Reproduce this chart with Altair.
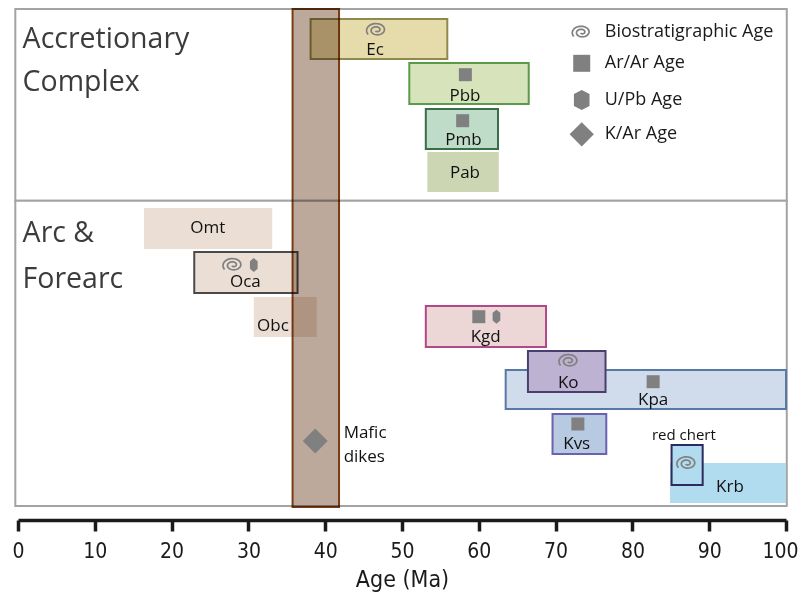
import altair as alt
import pandas as pd
import numpy as np

# ---------------- data ----------------
# ages in Ma; vertical positions in chart units (0 = top of frame, 511 = age axis)
box_names  = ["Ec", "Pbb", "Pmb", "Pab", "Omt", "Oca", "Obc", "Kgd", "Kpa", "Ko", "Kvs", "Krb", "RC"]
box_age0   = [38.1, 50.95, 53.1, 53.3, 16.4, 22.95, 30.7, 53.1, 63.5, 66.4, 69.6, 84.9, 85.1]
box_age1   = [55.9, 66.5, 62.5, 62.6, 33.1, 36.4, 38.9, 68.75, 100, 76.5, 76.6, 100, 89.15]
box_top    = [10, 54, 100, 143, 199, 243, 288, 297, 361, 342, 405, 454, 436]
box_bottom = [50, 95, 140, 183, 240, 284, 328, 338, 400, 383, 445, 494, 476]
box_fill   = ["#e6dcab", "#d7e4bb", "#bfdcc8", "#cdd6b3", "#ebdfd5", "#ebdfd5", "#ebdfd5",
              "#ecd6d6", "#d0dcec", "#bdb2d2", "#b7cae2", "#b1dbef", "#b1dbef"]
box_stroke = ["#8c8a4c", "#5a9a4a", "#3a6e48", "#cdd6b3", "#ebdfd5", "#4a4a4a", "#ebdfd5",
              "#b0488a", "#5878a8", "#4a3e6e", "#6a62b0", "#b1dbef", "#2c2a5e"]
box_sw     = [2, 2, 2, 0, 0, 2, 0, 2, 2, 2, 2, 0, 2]

label_text = ["Ec", "Pbb", "Pmb", "Pab", "Omt", "Oca", "Obc", "Kgd", "Ko", "Kpa", "Kvs", "Krb"]
label_age  = [46.5, 58.2, 58.0, 58.2, 24.7, 29.6, 33.2, 60.9, 71.65, 82.7, 72.75, 92.7]
label_y    = [41, 86.7, 131, 164.3, 219.3, 273.3, 317, 328.3, 373.7, 391, 435.3, 478.3]

# dating symbols inside boxes
sq_age = [58.25, 57.9, 60.0, 82.7, 72.9]
sq_y   = [65.7, 111.7, 307.7, 372.7, 415]
hex_age = [30.7, 62.3]
hex_y   = [256, 307.7]
bio_age = [46.7, 28.0, 71.75, 87.1]
bio_y   = [21, 256, 352, 454.3]
kar_age = [38.7]
kar_y   = [432]

# Eocene column (mafic dikes)
col_age0, col_age1, col_top, col_bottom = [35.75], [41.8], [0], [498]

# frame panels
panel_top    = [0, 191.7]
panel_bottom = [191.7, 497]

# legend
leg_text = ["Biostratigraphic Age", "Ar/Ar Age", "U/Pb Age", "K/Ar Age"]
leg_y    = [23.3, 54.3, 91, 125.3]
leg_sym_age = 73.4
leg_txt_age = 76.4

# section titles
title_text = ["Accretionary", "Complex", "Arc &", "Forearc"]
title_y    = [38.7, 81.7, 232.7, 279]

note_text = ["Mafic", "dikes", "red chert"]
note_age  = [42.4, 42.4, 86.7]
note_y    = [424.3, 447.7, 426]

ticks = list(range(0, 101, 10))

# ---------------- styling ----------------
FONT = "Open Sans"
NARROW = "Liberation Sans Narrow, DejaVu Sans Condensed, DejaVu Sans"
GREY = "#808080"


def spiral_path(n=70, squash=0.72):
    th = np.linspace(np.pi * 1.25, np.pi * 5.2, n)
    r = 0.15 + 0.85 * (th - th[0]) / (th[-1] - th[0])
    xs = r * np.cos(th)
    ys = -r * np.sin(th) * squash
    return "M" + "L".join(f"{x:.3f},{y:.3f}" for x, y in zip(xs, ys))


SPIRAL = spiral_path()
HEX_SMALL = "M0,-1L0.55,-0.55L0.55,0.55L0,1L-0.55,0.55L-0.55,-0.55Z"
HEX_BIG = "M0,-1L0.78,-0.6L0.78,0.6L0,1L-0.78,0.6L-0.78,-0.6Z"

XS = alt.Scale(domain=[0, 100], nice=False, zero=False)
YS = alt.Scale(domain=[0, 511], reverse=True, nice=False, zero=False)
TITLE = "Age (Ma)"

xaxis = alt.Axis(values=ticks, format="d", grid=False, labelFont=NARROW, labelFontSize=21,
                 labelColor="#1a1a1a", labelPadding=9, labelFlush=False,
                 labelAlign={"condition": {"test": "datum.value == 100", "value": "right"},
                             "value": "center"},
                 labelOffset={"condition": {"test": "datum.value == 100", "value": 12},
                              "value": 0},
                 titleFont=NARROW, titleFontSize=23, titleFontWeight="normal",
                 titleColor="#1a1a1a", titlePadding=7,
                 domainColor="#1a1a1a", domainWidth=3.5, tickColor="#1a1a1a",
                 tickWidth=3.5, tickSize=11)


def X(field):
    return alt.X(field, type="quantitative", scale=XS, axis=xaxis, title=TITLE)


def Y(field):
    return alt.Y(field, type="quantitative", scale=YS, axis=None)


# ---------------- tables ----------------
boxes = pd.DataFrame(dict(name=box_names, a0=box_age0, a1=box_age1, y0=box_top, y1=box_bottom,
                          fill=box_fill, stroke=box_stroke, sw=box_sw))
labels = pd.DataFrame(dict(t=label_text, a=label_age, y=label_y))
panels = pd.DataFrame(dict(a0=[-0.35, -0.35], a1=[100.1, 100.1], y0=panel_top, y1=panel_bottom))
column = pd.DataFrame(dict(a0=col_age0, a1=col_age1, y0=col_top, y1=col_bottom))
squares = pd.DataFrame(dict(a=sq_age, y=sq_y))
hexes = pd.DataFrame(dict(a=hex_age, y=hex_y))
bios = pd.DataFrame(dict(a=bio_age, y=bio_y))
kars = pd.DataFrame(dict(a=kar_age, y=kar_y))
legend = pd.DataFrame(dict(t=leg_text, y=leg_y, a=[leg_txt_age] * 4, s=[leg_sym_age] * 4))
titles = pd.DataFrame(dict(t=title_text, y=title_y, a=[0.6] * 4))
notes = pd.DataFrame(dict(t=note_text, a=note_age, y=note_y))

# ---------------- layers ----------------
frame = alt.Chart(panels).mark_rect(fill="white", stroke="#a3a3a3", strokeWidth=2).encode(
    x=X("a0:Q"), x2="a1:Q", y=Y("y0:Q"), y2="y1:Q")

box_layer = alt.Chart(boxes).transform_window(idx="row_number()").mark_rect().encode(
    x=X("a0:Q"), x2="a1:Q", y=Y("y0:Q"), y2="y1:Q",
    fill=alt.Fill("fill:N", scale=None),
    stroke=alt.Stroke("stroke:N", scale=None),
    strokeWidth=alt.StrokeWidth("sw:Q", scale=None),
    order=alt.Order("idx:Q"),
)

col_layer = alt.Chart(column).mark_rect(fill="#bda99b", stroke="#7a3c14", strokeWidth=2,
                                        blend="multiply").encode(
    x=X("a0:Q"), x2="a1:Q", y=Y("y0:Q"), y2="y1:Q")

sq_layer = alt.Chart(squares).mark_point(shape="square", filled=True, size=169, color=GREY,
                                         opacity=1).encode(x=X("a:Q"), y=Y("y:Q"))
hex_layer = alt.Chart(hexes).mark_point(shape=HEX_SMALL, filled=True, size=196, color=GREY,
                                        opacity=1).encode(x=X("a:Q"), y=Y("y:Q"))
bio_layer = alt.Chart(bios).mark_point(shape=SPIRAL, filled=False, size=440, color=GREY,
                                       strokeWidth=1.7, opacity=1).encode(x=X("a:Q"), y=Y("y:Q"))
kar_layer = alt.Chart(kars).mark_point(shape="diamond", filled=True, size=620, color=GREY,
                                       opacity=1).encode(x=X("a:Q"), y=Y("y:Q"))

leg_syms = []
leg_shapes = [(SPIRAL, False, 390), ("square", True, 289), (HEX_BIG, True, 400), ("diamond", True, 590)]
for i, (shp, filled, size) in enumerate(leg_shapes):
    d = legend.iloc[[i]]
    kw = dict(shape=shp, filled=filled, size=size, color=GREY, opacity=1)
    if not filled:
        kw["strokeWidth"] = 1.7
    leg_syms.append(alt.Chart(d).mark_point(**kw).encode(x=X("s:Q"), y=Y("y:Q")))

leg_txt = alt.Chart(legend).mark_text(align="left", baseline="middle", font=FONT, fontSize=18,
                                      color="#1a1a1a").encode(x=X("a:Q"), y=Y("y:Q"), text="t:N")

label_layer = alt.Chart(labels).mark_text(align="center", baseline="middle", font=FONT,
                                          fontSize=17, color="#111111").encode(
    x=X("a:Q"), y=Y("y:Q"), text="t:N")

title_layer = alt.Chart(titles).mark_text(align="left", baseline="alphabetic", font=FONT,
                                          fontSize=28.5, color="#3c3c3c").encode(
    x=X("a:Q"), y=Y("y:Q"), text="t:N")

note_left = alt.Chart(notes.iloc[:2]).mark_text(align="left", baseline="middle", font=FONT,
                                               fontSize=17, color="#111111").encode(
    x=X("a:Q"), y=Y("y:Q"), text="t:N")
note_center = alt.Chart(notes.iloc[2:]).mark_text(align="center", baseline="middle", font=FONT,
                                                 fontSize=15, color="#111111").encode(
    x=X("a:Q"), y=Y("y:Q"), text="t:N")

chart = alt.layer(
    frame, box_layer, col_layer, sq_layer, hex_layer, bio_layer, kar_layer,
    *leg_syms, leg_txt, label_layer, title_layer, note_left, note_center,
).properties(
    width=768, height=511,
    autosize=alt.AutoSizeParams(type="none"),
    padding={"left": 10, "top": 1, "right": 12, "bottom": 80},
).configure_view(stroke=None)

chart.save("out.html", embed_options={"renderer": "svg", "actions": False})
